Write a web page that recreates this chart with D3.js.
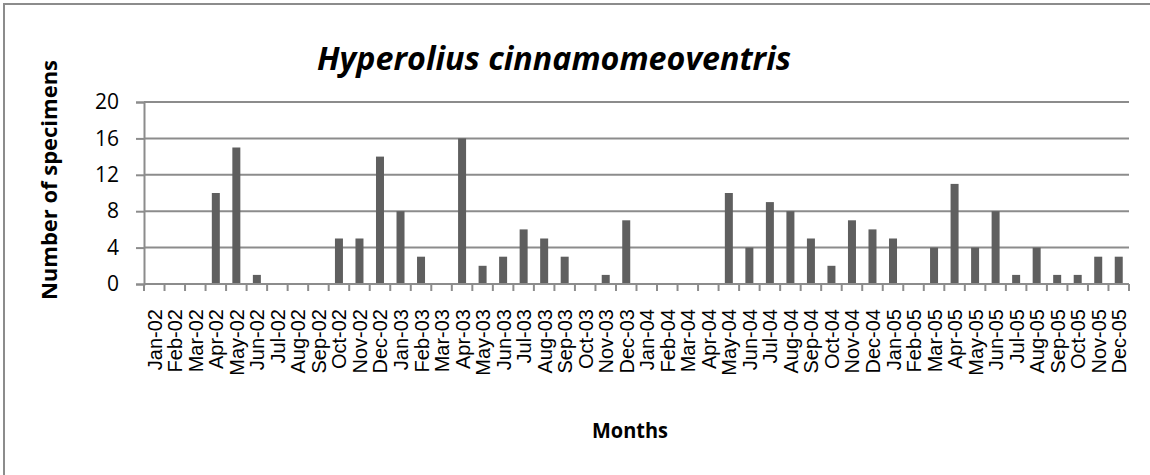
<!DOCTYPE html>
<html>
<head>
<meta charset="utf-8">
<script src="https://cdn.jsdelivr.net/npm/d3@7"></script>
<style>
  body { margin: 0; background: #fff; }
  svg { display: block; }
</style>
</head>
<body>
<svg width="1150" height="475"></svg>
<script>
// months Jan-02 .. Dec-05
var years = ['02', '03', '04', '05'];
var monthNames = ['Jan', 'Feb', 'Mar', 'Apr', 'May', 'Jun', 'Jul', 'Aug', 'Sep', 'Oct', 'Nov', 'Dec'];
var months = [];
years.forEach(function(y) {
  monthNames.forEach(function(m) { months.push(m + '-' + y); });
});

var specimens = [
  0, 0, 0, 10, 15, 1, 0, 0, 0, 5, 5, 14,
  8, 3, 0, 16, 2, 3, 6, 5, 3, 0, 1, 7,
  0, 0, 0, 0, 10, 4, 9, 8, 5, 2, 7, 6,
  5, 0, 4, 11, 4, 8, 1, 4, 1, 1, 3, 3
];
var yTicks = [0, 4, 8, 12, 16, 20];

var svg = d3.select('svg');
var plotLeft = 144, plotRight = 1129, plotTop = 102, plotBottom = 284;

// outer frame
svg.append('rect')
  .attr('x', 4).attr('y', 4)
  .attr('width', 1160).attr('height', 490)
  .attr('fill', 'none')
  .attr('stroke', '#8c8c8c')
  .attr('stroke-width', 2);

var x = d3.scaleBand().domain(months).range([plotLeft, plotRight]).padding(0);
var y = d3.scaleLinear().domain([0, 20]).range([plotBottom, plotTop]);

// gridlines
svg.append('g').selectAll('line')
  .data(yTicks.filter(function(d) { return d > 0; }))
  .enter().append('line')
  .attr('x1', plotLeft).attr('x2', plotRight)
  .attr('y1', function(d) { return y(d); })
  .attr('y2', function(d) { return y(d); })
  .attr('stroke', '#8c8c8c')
  .attr('stroke-width', 2);

// bars
var barW = 8;
svg.append('g').selectAll('rect')
  .data(specimens)
  .enter().append('rect')
  .attr('x', function(d, i) { return x(months[i]) + x.bandwidth() / 2 - barW / 2; })
  .attr('y', function(d) { return y(d); })
  .attr('width', barW)
  .attr('height', function(d) { return plotBottom - y(d); })
  .attr('fill', '#5f5f5f');

// y axis
var yAxis = svg.append('g')
  .attr('transform', 'translate(' + plotLeft + ',0)')
  .call(d3.axisLeft(y).tickValues(yTicks).tickSize(8).tickPadding(17));
yAxis.select('.domain').attr('stroke', '#8c8c8c').attr('stroke-width', 2);
yAxis.selectAll('.tick line').attr('stroke', '#8c8c8c').attr('stroke-width', 2);
yAxis.selectAll('.tick text')
  .attr('font-family', 'Open Sans')
  .attr('font-size', 21)
  .attr('fill', '#000');

// x axis line and ticks at band boundaries
svg.append('line')
  .attr('x1', plotLeft).attr('x2', plotRight)
  .attr('y1', plotBottom).attr('y2', plotBottom)
  .attr('stroke', '#8c8c8c').attr('stroke-width', 2);

var bounds = months.map(function(m) { return x(m); }).concat([plotRight]);
svg.append('g').selectAll('line')
  .data(bounds)
  .enter().append('line')
  .attr('x1', function(d) { return d; })
  .attr('x2', function(d) { return d; })
  .attr('y1', plotBottom).attr('y2', plotBottom + 7)
  .attr('stroke', '#8c8c8c').attr('stroke-width', 2);

// month labels
svg.append('g').selectAll('text')
  .data(months)
  .enter().append('text')
  .attr('transform', function(d) {
    return 'translate(' + (x(d) + x.bandwidth() / 2 + 7.5) + ',' + 309 + ') rotate(-90)';
  })
  .attr('text-anchor', 'end')
  .attr('font-family', 'Liberation Sans')
  .attr('font-size', 20)
  .attr('fill', '#000')
  .text(function(d) { return d; });

// title
svg.append('text')
  .attr('x', 554).attr('y', 70)
  .attr('text-anchor', 'middle')
  .attr('font-family', 'Open Sans')
  .attr('font-weight', 'bold')
  .attr('font-style', 'italic')
  .attr('font-size', 32)
  .attr('textLength', 474)
  .attr('lengthAdjust', 'spacingAndGlyphs')
  .text('Hyperolius cinnamomeoventris');

// axis titles
svg.append('text')
  .attr('x', 630).attr('y', 438)
  .attr('text-anchor', 'middle')
  .attr('font-family', 'Open Sans')
  .attr('font-weight', 'bold')
  .attr('font-size', 21)
  .attr('textLength', 76)
  .attr('lengthAdjust', 'spacingAndGlyphs')
  .text('Months');

svg.append('text')
  .attr('transform', 'translate(57,180) rotate(-90)')
  .attr('text-anchor', 'middle')
  .attr('font-family', 'Open Sans')
  .attr('font-weight', 'bold')
  .attr('font-size', 21)
  .attr('textLength', 240)
  .attr('lengthAdjust', 'spacingAndGlyphs')
  .text('Number of specimens');
</script>
</body>
</html>
